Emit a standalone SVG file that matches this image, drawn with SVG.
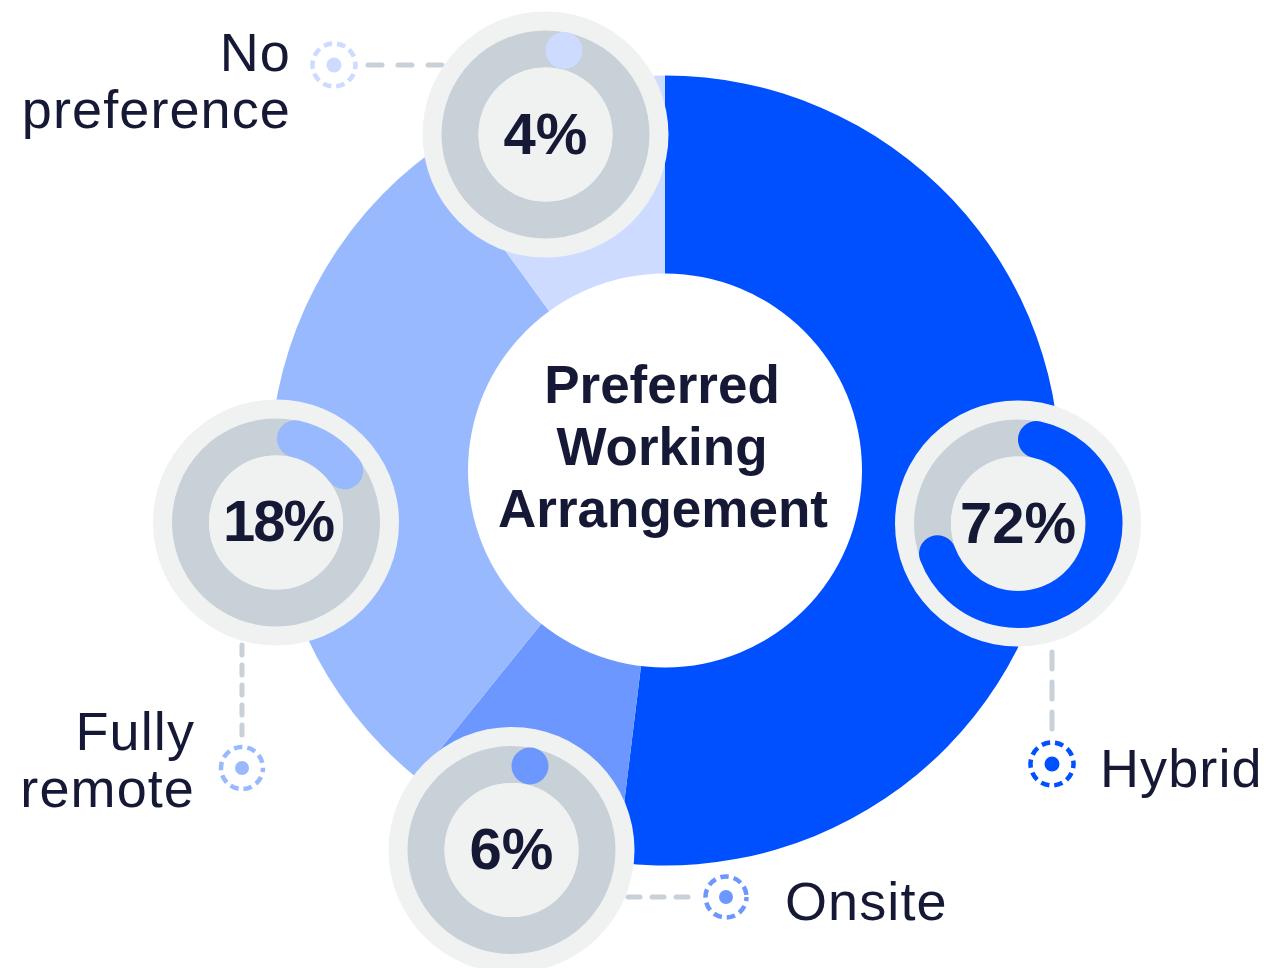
<svg xmlns="http://www.w3.org/2000/svg" width="1268" height="968" viewBox="0 0 1268 968">
<style>
.lbl{font-family:"Liberation Sans",Arial,sans-serif;font-size:54px;letter-spacing:1.1px;fill:#161936}
.pct{font-family:"Liberation Sans",Arial,sans-serif;font-size:58px;font-weight:bold;fill:#161936;text-anchor:middle}
.title{font-family:"Liberation Sans",Arial,sans-serif;font-size:53px;font-weight:bold;fill:#161936;text-anchor:middle}
.outer{fill:#F0F2F2}
.ring{fill:none;stroke:#C8D0D8;stroke-width:37}
.core{fill:#F0F2F2}
.prog{fill:none;stroke-width:37;stroke-linecap:round}
.conn{fill:none;stroke:#C8D0D8;stroke-width:5;stroke-linecap:round}
.icon{fill:none;stroke-width:4.5;stroke-dasharray:8.5 5;stroke-dashoffset:4.25}
</style>
<rect width="1268" height="968" fill="#FFFFFF"/>
<g id="donut">
<path d="M665 470.5 L665 75.5 A395 395 0 1 1 616.86 862.56 Z" fill="#0050FF"/>
<path d="M665 470.5 L616.86 862.56 A395 395 0 0 1 416.94 777.89 Z" fill="#6B97FF"/>
<path d="M665 470.5 L416.94 777.89 A395 395 0 0 1 432.82 150.94 Z" fill="#99B9FF"/>
<path d="M665 470.5 L432.82 150.94 A395 395 0 0 1 665 75.5 Z" fill="#CCDBFF"/>
<circle cx="665" cy="470.5" r="197" fill="#FFFFFF"/>
</g>
<g id="title">
<text class="title" x="662" y="403">Preferred</text>
<text class="title" x="662" y="465">Working</text>
<text class="title" x="663" y="527">Arrangement</text>
</g>
<g id="connectors">
<path class="conn" d="M368 65 L444 65" stroke-dasharray="14 16"/>
<path class="conn" d="M242 645 L242 738" stroke-dasharray="10 10"/>
<path class="conn" d="M1052 652 L1052 732" stroke-dasharray="17 13"/>
<path class="conn" d="M628 897 L697 897" stroke-dasharray="12 12"/>
</g>
<g id="node-nopref">
<circle class="outer" cx="545.5" cy="134.5" r="123"/>
<circle class="ring" cx="545.5" cy="134.5" r="85.5"/>
<circle class="core" cx="545.5" cy="134.5" r="67"/>
<circle cx="564" cy="50.5" r="18.5" fill="#CCDBFF"/>
<text class="pct" x="545.5" y="154">4%</text>
</g>
<g id="node-hybrid">
<circle class="outer" cx="1018" cy="523.5" r="123"/>
<circle class="ring" cx="1018" cy="523.5" r="85.5"/>
<circle class="core" cx="1018" cy="523.5" r="67"/>
<path class="prog" stroke="#0050FF" d="M1036.47 439.5 A86 86 0 1 1 937.5 553.75"/>
<text class="pct" x="1018" y="543">72%</text>
</g>
<g id="node-remote">
<circle class="outer" cx="276" cy="522.5" r="123"/>
<circle class="ring" cx="276" cy="522.5" r="85.5"/>
<circle class="core" cx="276" cy="522.5" r="67"/>
<path class="prog" stroke="#99B9FF" d="M295.35 438.7 A86 86 0 0 1 344.68 470.75"/>
<text class="pct" x="278" y="541" letter-spacing="-2">18%</text>
</g>
<g id="node-onsite">
<circle class="outer" cx="511.5" cy="850" r="123"/>
<circle class="ring" cx="511.5" cy="850" r="85.5"/>
<circle class="core" cx="511.5" cy="850" r="67"/>
<circle cx="530" cy="766" r="18.5" fill="#6B97FF"/>
<text class="pct" x="511.5" y="869">6%</text>
</g>
<g id="legend-nopref">
<circle class="icon" stroke="#CCDBFF" cx="334" cy="65" r="21.5"/>
<circle cx="334" cy="65" r="7.5" fill="#CCDBFF"/>
<text class="lbl" x="291" y="71" text-anchor="end">No</text>
<text class="lbl" x="291" y="128" text-anchor="end">preference</text>
</g>
<g id="legend-remote">
<circle class="icon" stroke="#99B9FF" cx="242" cy="768" r="21"/>
<circle cx="242" cy="768" r="7" fill="#99B9FF"/>
<text class="lbl" x="195" y="750" text-anchor="end">Fully</text>
<text class="lbl" x="195" y="807" text-anchor="end">remote</text>
</g>
<g id="legend-hybrid">
<circle class="icon" stroke="#0050FF" cx="1052" cy="764" r="21.5"/>
<circle cx="1052" cy="764" r="7.5" fill="#0050FF"/>
<text class="lbl" x="1100" y="787">Hybrid</text>
</g>
<g id="legend-onsite">
<circle class="icon" stroke="#6B97FF" cx="726" cy="897" r="20.5"/>
<circle cx="726" cy="897" r="7" fill="#6B97FF"/>
<text class="lbl" x="785" y="920">Onsite</text>
</g>
</svg>
